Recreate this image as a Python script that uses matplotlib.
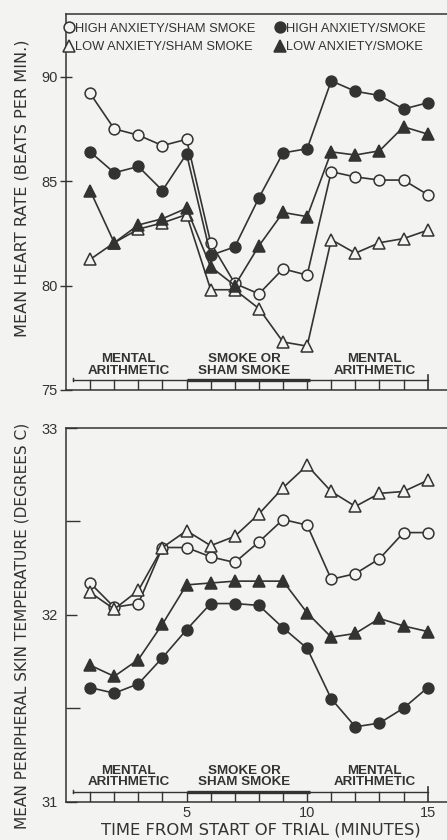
import matplotlib
matplotlib.use("Agg")
import matplotlib.pyplot as plt
from matplotlib.lines import Line2D

plt.rcParams['font.family'] = ['Liberation Sans', 'DejaVu Sans']

# ---- data -------------------------------------------------------------
minutes = list(range(1, 16))

series_names = ["HIGH ANXIETY/SHAM SMOKE", "LOW ANXIETY/SHAM SMOKE",
                "HIGH ANXIETY/SMOKE", "LOW ANXIETY/SMOKE"]

# mean heart rate (beats per min.)
hr_ha_sham = [89.2, 87.5, 87.2, 86.7, 87.0, 82.05, 80.1, 79.6, 80.8, 80.5,
              85.45, 85.2, 85.05, 85.05, 84.35]
hr_la_sham = [81.25, 82.05, 82.7, 83.0, 83.4, 79.8, 79.8, 78.9, 77.3, 77.1,
              82.2, 81.55, 82.05, 82.25, 82.65]
hr_ha_smoke = [86.4, 85.4, 85.7, 84.55, 86.3, 81.45, 81.85, 84.2, 86.35, 86.55,
               89.8, 89.3, 89.1, 88.45, 88.75]
hr_la_smoke = [84.55, 82.05, 82.9, 83.2, 83.7, 80.9, 80.0, 81.9, 83.5, 83.3,
               86.4, 86.25, 86.45, 87.6, 87.25]

# mean peripheral skin temperature (degrees C)
sk_ha_sham = [32.17, 32.04, 32.06, 32.36, 32.36, 32.31, 32.28, 32.39, 32.51,
              32.48, 32.19, 32.22, 32.30, 32.44, 32.44]
sk_la_sham = [32.12, 32.03, 32.13, 32.36, 32.45, 32.37, 32.42, 32.54, 32.68,
              32.80, 32.66, 32.58, 32.65, 32.66, 32.72]
sk_ha_smoke = [31.61, 31.58, 31.63, 31.77, 31.92, 32.06, 32.06, 32.05, 31.93,
               31.82, 31.55, 31.40, 31.42, 31.50, 31.61]
sk_la_smoke = [31.73, 31.67, 31.76, 31.95, 32.16, 32.17, 32.18, 32.18, 32.18,
               32.01, 31.88, 31.90, 31.98, 31.94, 31.91]

phase_labels = ["MENTAL\nARITHMETIC", "SMOKE OR\nSHAM SMOKE", "MENTAL\nARITHMETIC"]
phase_centers = [2.6, 7.4, 12.8]
xtick_vals = [5, 10, 15]

# ---- style ------------------------------------------------------------
BG = "#f3f3f1"
INK = "#333333"
WIDE = ['DejaVu Sans']
W, H = 447, 840

fig = plt.figure(figsize=(W / 100, H / 100), dpi=100, facecolor=BG)


def box(left, top, right, bottom):
    return [left / W, 1 - bottom / H, (right - left) / W, (bottom - top) / H]


ax1 = fig.add_axes(box(66, 14, 447, 390), facecolor=BG)
ax2 = fig.add_axes(box(66, 428, 447, 801.5), facecolor=BG)

styles = [
    dict(marker="o", mfc=BG, ms=7.8),
    dict(marker="^", mfc=BG, ms=8.2),
    dict(marker="o", mfc=INK, ms=7.8),
    dict(marker="^", mfc=INK, ms=8.2),
]


def draw_series(ax, data):
    for ys, st in zip(data, styles):
        ax.plot(minutes, ys, color=INK, lw=1.2, mec=INK, mew=1.1,
                clip_on=False, **st)


draw_series(ax1, [hr_ha_sham, hr_la_sham, hr_ha_smoke, hr_la_smoke])
draw_series(ax2, [sk_ha_sham, sk_la_sham, sk_ha_smoke, sk_la_smoke])


def timeline(ax, y_bar, y_axis, y_text, cap_top):
    x0, x1 = 0.28, minutes[-1]
    ax.plot([x0, x1], [y_bar, y_bar], color=INK, lw=1.0)
    ax.plot([5, 10.1], [y_bar, y_bar], color=INK, lw=2.4, solid_capstyle="butt")
    for m in minutes[:-1]:
        ax.plot([m, m], [y_bar, y_axis], color=INK, lw=1.0)
    ax.plot([x0, x0], [y_bar - (cap_top - y_bar) * 0.4, y_bar + (cap_top - y_bar) * 0.4],
            color=INK, lw=1.0)
    ax.plot([x1, x1], [y_axis, cap_top], color=INK, lw=1.2)
    for xc, lab in zip(phase_centers, phase_labels):
        ax.text(xc, y_text, lab, ha="center", va="center", fontsize=9.6,
                color=INK, linespacing=0.92, fontweight="bold")


for ax in (ax1, ax2):
    ax.set_xlim(0, 15.8)
    ax.spines["right"].set_visible(False)
    for side in ("left", "top", "bottom"):
        ax.spines[side].set_color(INK)
        ax.spines[side].set_linewidth(1.1)
    ax.tick_params(axis="x", length=0)
    ax.tick_params(axis="y", colors=INK, labelsize=10.5, width=1.0)

# heart rate panel
ax1.set_ylim(75, 93)
ax1.set_yticks([75, 80, 85, 90])
ax1.tick_params(axis="y", direction="inout", length=8, pad=2)
ax1.set_xticks([])
timeline(ax1, 75.5, 75.0, 76.2, 75.7)

# skin temperature panel
ax2.set_ylim(31, 33)
ax2.set_yticks([31, 32, 33])
ax2.set_yticks([31.5, 32.5], minor=True)
ax2.tick_params(axis="y", which="major", direction="in", length=8, pad=6)
ax2.tick_params(axis="y", which="minor", direction="in", length=10, width=1.0,
                colors=INK)
ax2.set_xticks(xtick_vals)
ax2.set_xticklabels([str(v) for v in xtick_vals], fontsize=10.5, color=INK)
ax2.tick_params(axis="x", pad=3)
timeline(ax2, 31.053, 31.0, 31.133, 31.075)

fig.text(261 / W, 1 - 830 / H, "TIME FROM START OF TRIAL (MINUTES)",
         ha="center", va="center", fontsize=11.8, color=INK, family=WIDE)

fig.text(22 / W, 1 - 188 / H, "MEAN HEART RATE (BEATS PER MIN.)", rotation=90,
         ha="center", va="center", fontsize=11.6, color=INK, family=WIDE)
fig.text(22 / W, 1 - 626 / H, "MEAN PERIPHERAL SKIN TEMPERATURE (DEGREES C)",
         rotation=90, ha="center", va="center", fontsize=11.1, color=INK,
         family=WIDE)

# legend
handles = [Line2D([], [], ls="none", color=INK, mec=INK, mew=1.1, **st)
           for st in styles]
leg = ax1.legend(handles, series_names, ncol=2, loc="upper left",
                 bbox_to_anchor=(-0.004, 0.977), frameon=False, fontsize=9.3,
                 handlelength=0.7, handletextpad=0.15, columnspacing=1.5,
                 labelspacing=0.5, borderaxespad=0.0, borderpad=0.0)
for t in leg.get_texts():
    t.set_color(INK)

fig.savefig("out.png", dpi=100, facecolor=BG)
